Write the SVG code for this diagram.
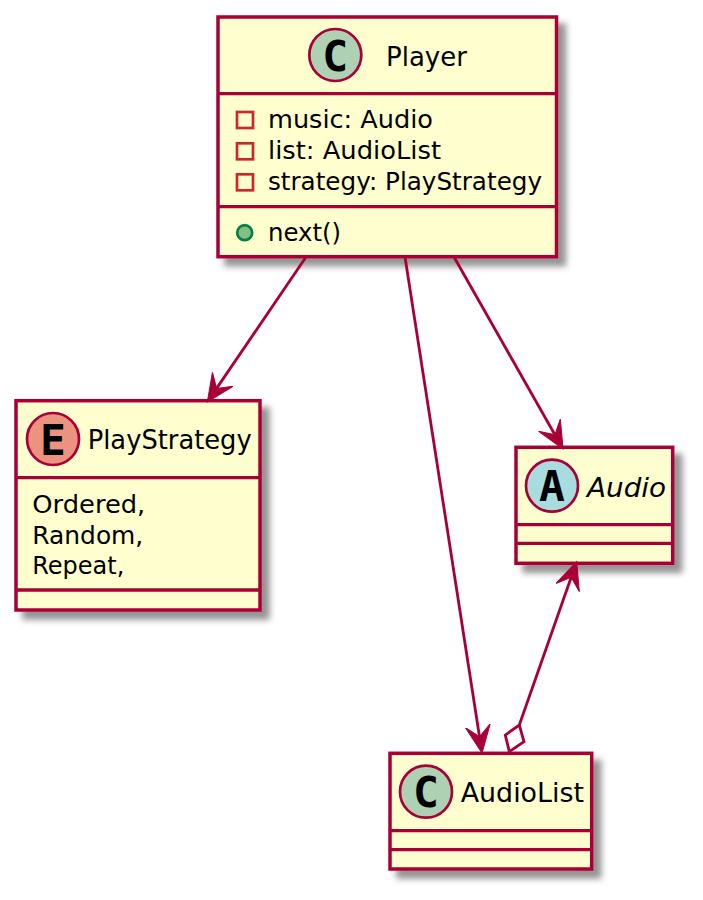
<svg xmlns="http://www.w3.org/2000/svg" width="703" height="900" viewBox="0 0 703 900">
<style>
.box{fill:#FEFECE;stroke:#A80036;stroke-width:3.5;filter:url(#sh)}
.div{stroke:#A80036;stroke-width:3.3;fill:none}
.spot{stroke:#A80036;stroke-width:2.7}
.conn{stroke:#A80036;stroke-width:2.8;fill:none}
.t{font-family:"DejaVu Sans",sans-serif;font-size:25.5px;fill:#000}
.h{font-family:"DejaVu Sans",sans-serif;font-size:27px;fill:#000}
.g{font-family:"DejaVu Sans Mono","DejaVu Sans",monospace;font-weight:bold;font-size:43px;fill:#000;text-anchor:middle}
.priv{fill:none;stroke:#C82930;stroke-width:2.7}
</style>
<defs>
<filter id="sh" x="-10%" y="-10%" width="125%" height="125%">
<feDropShadow dx="8" dy="8" stdDeviation="3" flood-color="#000" flood-opacity="0.42"/>
</filter>
<marker id="arrow" markerUnits="userSpaceOnUse" markerWidth="40" markerHeight="40" refX="11" refY="20" viewBox="0 0 40 40" orient="auto">
<path d="M0,7.5 L27.5,20 L0,32.5 L11,20 Z" fill="#A80036" stroke="#A80036" stroke-width="1"/>
</marker>
</defs>
<g id="Player">
<rect class="box" x="218" y="17" width="338.5" height="239.7"/>
<path class="div" d="M218,93.7H556.5M218,206.7H556.5"/>
<circle class="spot" cx="335.3" cy="55" r="26" fill="#ADD1B2"/>
<text class="g" x="335.3" y="70.5">C</text>
<text class="h" x="386" y="65.7" textLength="81" lengthAdjust="spacingAndGlyphs">Player</text>
<rect class="priv" x="237" y="112" width="16" height="16"/>
<text class="t" x="268" y="128.3" textLength="165" lengthAdjust="spacingAndGlyphs">music: Audio</text>
<rect class="priv" x="237" y="143.3" width="16" height="16"/>
<text class="t" x="268" y="159.3" textLength="173" lengthAdjust="spacingAndGlyphs">list: AudioList</text>
<rect class="priv" x="237" y="174.3" width="16" height="16"/>
<text class="t" x="268" y="190" textLength="274" lengthAdjust="spacingAndGlyphs">strategy: PlayStrategy</text>
<circle cx="244.7" cy="232.7" r="7.5" fill="#84BE84" stroke="#038048" stroke-width="2.7"/>
<text class="t" x="268" y="241" textLength="73" lengthAdjust="spacingAndGlyphs">next()</text>
</g>
<g id="PlayStrategy">
<rect class="box" x="16" y="400.7" width="244" height="209.3"/>
<path class="div" d="M16,477.7H260M16,590H260"/>
<circle class="spot" cx="53" cy="439" r="26" fill="#EB937F"/>
<text class="g" x="53" y="454.5">E</text>
<text class="h" x="87.7" y="449.3" textLength="164" lengthAdjust="spacingAndGlyphs">PlayStrategy</text>
<text class="t" x="32.3" y="513.3" textLength="113" lengthAdjust="spacingAndGlyphs">Ordered,</text>
<text class="t" x="32.3" y="544" textLength="111" lengthAdjust="spacingAndGlyphs">Random,</text>
<text class="t" x="32.3" y="574.3" textLength="92" lengthAdjust="spacingAndGlyphs">Repeat,</text>
</g>
<g id="Audio">
<rect class="box" x="516" y="447.3" width="156.7" height="116"/>
<path class="div" d="M516,524.7H672.7M516,543.3H672.7"/>
<circle class="spot" cx="552" cy="485.7" r="26" fill="#A9DCDF"/>
<text class="g" x="552" y="501">A</text>
<text class="h" x="587" y="496.7" textLength="79" lengthAdjust="spacingAndGlyphs" font-style="italic">Audio</text>
</g>
<g id="AudioList">
<rect class="box" x="390" y="753.3" width="201.7" height="115.7"/>
<path class="div" d="M390,830.7H591.7M390,849.7H591.7"/>
<circle class="spot" cx="426" cy="791.7" r="26" fill="#ADD1B2"/>
<text class="g" x="426" y="807">C</text>
<text class="h" x="460.7" y="802.3" textLength="123.3" lengthAdjust="spacingAndGlyphs">AudioList</text>
</g>
<g id="connectors">
<path class="conn" d="M306,257 L216.6,388.4" marker-end="url(#arrow)"/>
<path class="conn" d="M405,257 L479.5,736.7" marker-end="url(#arrow)"/>
<path class="conn" d="M454,257 L554.9,434.7" marker-end="url(#arrow)"/>
<path class="conn" d="M519.3,725 L571.2,577.3" marker-end="url(#arrow)"/>
<path class="conn" d="M509.3,751.7 L524,741.7 L519.3,725 L505.3,735 Z" style="fill:#fff"/>
</g>
</svg>
